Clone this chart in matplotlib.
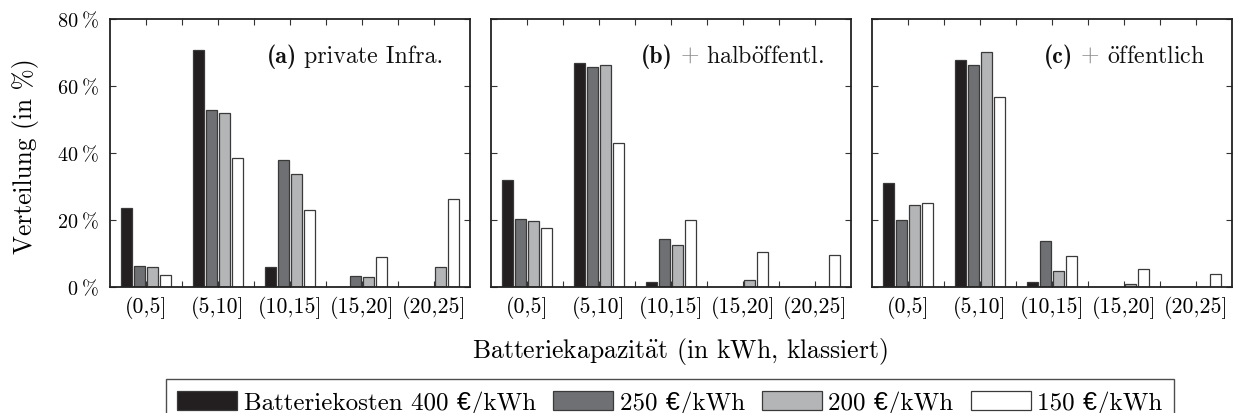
import numpy as np
import matplotlib
matplotlib.use("Agg")
import matplotlib.pyplot as plt
import matplotlib.transforms as mtransforms
from matplotlib.patches import Patch

# data (in %)
categories = ["(0,5]", "(5,10]", "(10,15]", "(15,20]", "(20,25]"]
series_labels = ["Batteriekosten 400 €/kWh", "250 €/kWh", "200 €/kWh", "150 €/kWh"]

# panel (a) private Infra.
a_400 = [23.6, 70.7, 6.0, 0.0, 0.0]
a_250 = [6.4, 52.7, 37.9, 3.2, 0.0]
a_200 = [5.9, 52.0, 33.7, 2.9, 5.9]
a_150 = [3.6, 38.6, 22.9, 8.9, 26.4]

# panel (b) + halböffentl.
b_400 = [31.9, 66.9, 1.6, 0.0, 0.0]
b_250 = [20.3, 65.8, 14.3, 0.0, 0.0]
b_200 = [19.7, 66.2, 12.5, 2.0, 0.0]
b_150 = [17.5, 43.0, 20.0, 10.3, 9.6]

# panel (c) + öffentlich
c_400 = [30.9, 67.8, 1.6, 0.0, 0.0]
c_250 = [20.1, 66.4, 13.8, 0.0, 0.0]
c_200 = [24.5, 70.1, 4.9, 0.8, 0.0]
c_150 = [25.1, 56.6, 9.3, 5.3, 4.0]

panel_tags = ["(a)", "(b)", "(c)"]
# umlauts via mathtext accents so they stay in computer modern
panel_names = ["private Infra.", r"halb$\ddot{\mathrm{o}}$ffentl.", r"$\ddot{\mathrm{o}}$ffentlich"]
x_title = r"Batteriekapazit$\ddot{\mathrm{a}}$t (in kWh, klassiert)"
y_title = "Verteilung (in %)"
y_ticks = [0, 20, 40, 60, 80]

colors = ["#231f20", "#6f7073", "#b4b5b7", "#ffffff"]
edge = "#3a3a3a"
RM = ["cmr10", "Liberation Sans", "DejaVu Sans"]
BF = ["cmb10", "DejaVu Serif"]

plt.rcParams["font.family"] = RM
plt.rcParams["mathtext.fontset"] = "cm"
plt.rcParams["axes.unicode_minus"] = False

fig = plt.figure(figsize=(12.34, 4.14), dpi=100)
lefts = [110 / 1234, 491 / 1234, 872 / 1234]
bottom = 1 - 288 / 414
height = 268 / 414
width = 360 / 1234

panels = [
    [a_400, a_250, a_200, a_150],
    [b_400, b_250, b_200, b_150],
    [c_400, c_250, c_200, c_150],
]

x = np.arange(1, len(categories) + 1)
step = 0.183
bw = 0.153


def label_panel(ax, parts, xa=0.926, ya=0.84, size=17.2, gap=5.5):
    # place text pieces right to left on one baseline
    r = fig.canvas.get_renderer()
    off = 0.0
    for s, c, fam in reversed(parts):
        tr = ax.transAxes + mtransforms.ScaledTranslation(-off / 72, 0, fig.dpi_scale_trans)
        t = ax.text(xa, ya, s, color=c, family=fam, fontsize=size,
                    ha="right", va="baseline", transform=tr)
        w = t.get_window_extent(r).width
        off += w * 72 / fig.dpi + gap


axes = []
for k, series in enumerate(panels):
    ax = fig.add_axes([lefts[k], bottom, width, height])
    axes.append(ax)
    for i, vals in enumerate(series):
        ax.bar(x + (i - 1.5) * step, vals, bw, color=colors[i],
               edgecolor=edge, linewidth=0.9, zorder=2)
    ax.set_xlim(0.5, 5.5)
    ax.set_ylim(0, 80)
    ax.set_xticks(x)
    ax.set_xticks(x[:-1] + 0.5, minor=True)
    ax.set_xticklabels(categories, fontsize=15.7)
    ax.set_yticks(y_ticks)
    if k == 0:
        ax.set_yticklabels([f"{v}\u2009%" for v in y_ticks], fontsize=14.5)
    else:
        ax.set_yticklabels([])
    ax.tick_params(which="both", direction="in", top=True, right=True,
                   length=4, width=0.8, color="#333333")
    ax.tick_params(axis="x", pad=6)
    ax.tick_params(axis="y", pad=8)
    for sp in ax.spines.values():
        sp.set_linewidth(1.3)
        sp.set_color("#222222")

    parts = [(panel_tags[k], "#111111", BF)]
    if k > 0:
        parts.append(("+", "#8a8a8a", RM))
    parts.append((panel_names[k], "#111111", RM))
    label_panel(ax, parts)

fig.text(0.021, 1 - 156 / 414, y_title, rotation=90,
         ha="center", va="center", fontsize=18.3)
fig.text(0.551, 1 - 352 / 414, x_title,
         ha="center", va="center", fontsize=18.5)

handles = [Patch(facecolor=c, edgecolor=edge, linewidth=0.9) for c in colors]
leg = fig.legend(handles, series_labels, loc="upper center",
                 bbox_to_anchor=(0.543, 1 - 380 / 414), ncol=4, fontsize=18,
                 frameon=True, fancybox=False, handlelength=2.4,
                 handleheight=0.8, handletextpad=0.25, columnspacing=0.7,
                 borderpad=0.45, borderaxespad=0)
leg.get_frame().set_edgecolor("#222222")
leg.get_frame().set_linewidth(1.0)

fig.savefig("out.png", dpi=100)
